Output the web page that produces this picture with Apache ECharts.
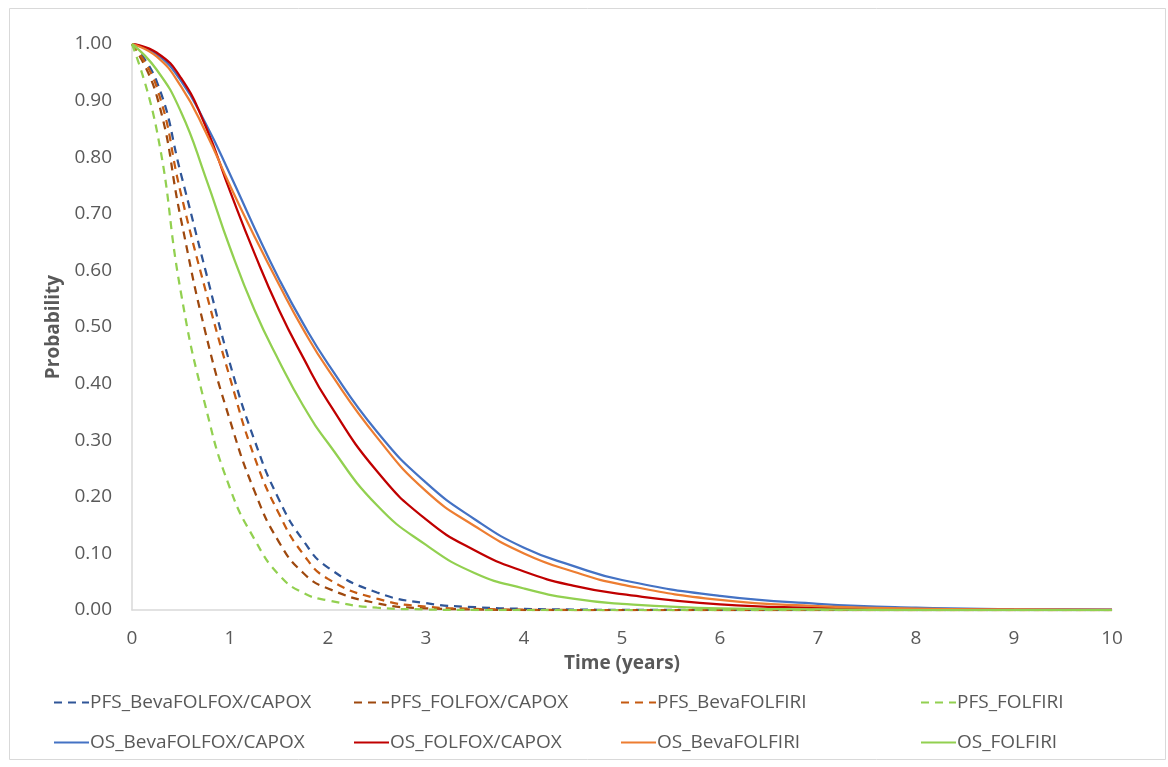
<!DOCTYPE html>
<html>
<head>
<meta charset="utf-8">
<script src="https://cdn.jsdelivr.net/npm/echarts@6/dist/echarts.min.js"></script>
<style>
  html, body { margin: 0; padding: 0; background: #fff; }
  #chart { width: 1168px; height: 767px; }
</style>
</head>
<body>
<div id="chart"></div>
<script>
// Survival curves: time in years, probability per regimen
const timeYears = [0, 0.25, 0.5, 0.75, 1, 1.25, 1.5, 1.75, 2, 2.5, 3, 3.5, 4, 4.5, 5, 6, 7, 8, 9, 10];

const pfsBevaFolfoxCapox = [1, 0.935, 0.77, 0.60, 0.435, 0.30, 0.195, 0.122, 0.075, 0.031, 0.012, 0.005, 0.002, 0.0008, 0.0003, 0, 0, 0, 0, 0];
const pfsFolfoxCapox     = [1, 0.91, 0.69, 0.49, 0.335, 0.21, 0.12, 0.065, 0.038, 0.012, 0.003, 0.001, 0, 0, 0, 0, 0, 0, 0, 0];
const pfsBevaFolfiri     = [1, 0.925, 0.735, 0.565, 0.41, 0.27, 0.17, 0.098, 0.055, 0.02, 0.006, 0.002, 0.0005, 0, 0, 0, 0, 0, 0, 0];
const pfsFolfiri         = [1, 0.85, 0.56, 0.36, 0.215, 0.125, 0.062, 0.03, 0.017, 0.004, 0.001, 0, 0, 0, 0, 0, 0, 0, 0, 0];
const osBevaFolfoxCapox  = [1, 0.982, 0.935, 0.86, 0.77, 0.675, 0.585, 0.505, 0.435, 0.315, 0.225, 0.16, 0.11, 0.078, 0.053, 0.025, 0.011, 0.004, 0.0015, 0.0005];
const osFolfoxCapox      = [1, 0.985, 0.94, 0.855, 0.74, 0.63, 0.53, 0.445, 0.368, 0.245, 0.16, 0.105, 0.068, 0.043, 0.028, 0.01, 0.004, 0.0013, 0.0004, 0.0001];
const osBevaFolfiri      = [1, 0.978, 0.925, 0.845, 0.75, 0.66, 0.575, 0.495, 0.425, 0.305, 0.21, 0.148, 0.10, 0.068, 0.045, 0.018, 0.007, 0.0025, 0.001, 0.0003];
const osFolfiri          = [1, 0.955, 0.88, 0.765, 0.64, 0.53, 0.44, 0.36, 0.295, 0.185, 0.115, 0.065, 0.038, 0.02, 0.011, 0.003, 0.001, 0, 0, 0];

const seriesNames = [
  'PFS_BevaFOLFOX/CAPOX', 'PFS_FOLFOX/CAPOX', 'PFS_BevaFOLFIRI', 'PFS_FOLFIRI',
  'OS_BevaFOLFOX/CAPOX', 'OS_FOLFOX/CAPOX', 'OS_BevaFOLFIRI', 'OS_FOLFIRI'
];
const seriesValues = [
  pfsBevaFolfoxCapox, pfsFolfoxCapox, pfsBevaFolfiri, pfsFolfiri,
  osBevaFolfoxCapox, osFolfoxCapox, osBevaFolfiri, osFolfiri
];
const seriesColors = ['#2F5597', '#9E480E', '#C55A11', '#92D050', '#4472C4', '#C00000', '#ED7D31', '#92D050'];
const seriesDashed = [true, true, true, true, false, false, false, false];

const FONT = 'Open Sans';
const TEXT = '#595959';

const series = seriesNames.map((name, i) => ({
  name,
  type: 'line',
  smooth: 0.5,
  symbol: 'none',
  data: timeYears.map((t, k) => [t, seriesValues[i][k]]),
  lineStyle: {
    color: seriesColors[i],
    width: 2.25,
    type: seriesDashed[i] ? [8, 6] : 'solid',
    cap: 'butt'
  },
  itemStyle: { color: seriesColors[i] },
  z: 2 + i
}));

// four legend columns, two rows each (PFS on top, OS below)
const legendLefts = [53, 353, 620, 920];
const legends = legendLefts.map((left, c) => ({
  left,
  top: 693,
  padding: 0,
  orient: 'vertical',
  itemGap: 21,
  itemWidth: 35,
  itemHeight: 20,
  itemStyle: { opacity: 0 },
  data: [seriesNames[c], seriesNames[c + 4]],
  textStyle: { fontFamily: FONT, fontSize: 19, color: TEXT, padding: [0, 0, 0, -4] },
  selectedMode: false
}));

const chart = echarts.init(document.getElementById('chart'), null, { renderer: 'canvas' });
chart.setOption({
  animation: false,
  backgroundColor: '#fff',
  graphic: [{
    type: 'rect',
    shape: { x: 9.5, y: 8.5, width: 1156, height: 751 },
    style: { fill: 'none', stroke: '#d9d9d9', lineWidth: 1 },
    silent: true
  }],
  grid: { left: 132, right: 56, top: 44, bottom: 157 },
  legend: legends,
  xAxis: {
    type: 'value',
    min: 0, max: 10, interval: 1,
    name: 'Time (years)',
    nameLocation: 'middle',
    nameGap: 44,
    nameTextStyle: { fontFamily: FONT, fontSize: 19, fontWeight: 'bold', color: TEXT },
    axisLine: { show: true, lineStyle: { color: '#d9d9d9', width: 1.5 } },
    axisTick: { show: false },
    splitLine: { show: false },
    axisLabel: { fontFamily: FONT, fontSize: 19, color: TEXT, margin: 19 }
  },
  yAxis: {
    type: 'value',
    min: 0, max: 1, interval: 0.1,
    name: 'Probability',
    nameLocation: 'middle',
    nameGap: 60,
    nameRotate: 90,
    nameTextStyle: { fontFamily: FONT, fontSize: 19, fontWeight: 'bold', color: TEXT },
    axisLine: { show: true, lineStyle: { color: '#d9d9d9', width: 1.5 } },
    axisTick: { show: false },
    splitLine: { show: false },
    axisLabel: { fontFamily: FONT, fontSize: 19, color: TEXT, margin: 20, formatter: v => v.toFixed(2) }
  },
  series
});
</script>
</body>
</html>
